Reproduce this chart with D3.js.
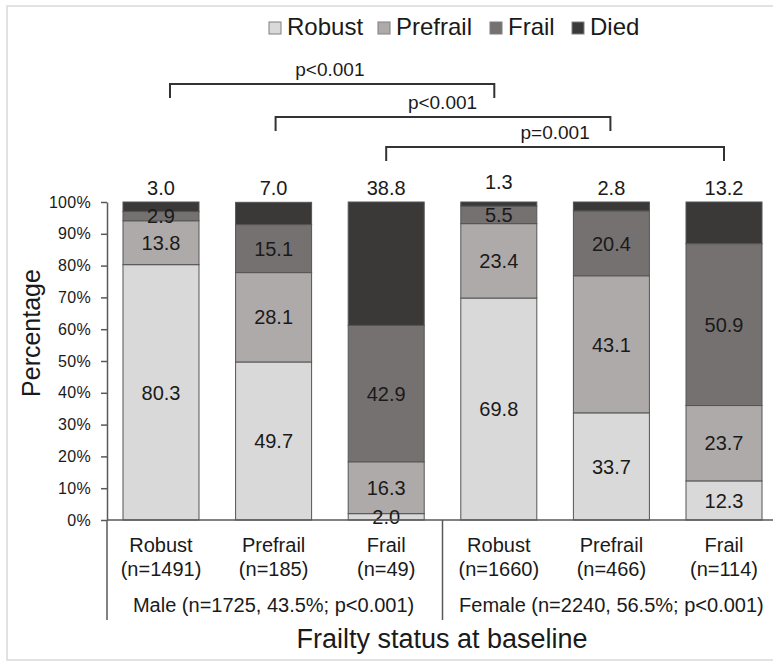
<!DOCTYPE html>
<html>
<head>
<meta charset="utf-8">
<script src="https://cdn.jsdelivr.net/npm/d3@7"></script>
<style>
  body { margin: 0; background: #fff; }
  svg text { font-family: "Liberation Sans", Arial, sans-serif; fill: #1a1a1a; }
</style>
</head>
<body>
<svg id="chart" width="773" height="662"></svg>
<script>
// categories (frailty status at baseline), grouped by sex
const categories = ["M-Robust", "M-Prefrail", "M-Frail", "F-Robust", "F-Prefrail", "F-Frail"];
const catNames = ["Robust", "Prefrail", "Frail", "Robust", "Prefrail", "Frail"];
const catCounts = ["(n=1491)", "(n=185)", "(n=49)", "(n=1660)", "(n=466)", "(n=114)"];
const groups = ["Male (n=1725, 43.5%; p<0.001)", "Female (n=2240, 56.5%; p<0.001)"];

// outcome series (percent)
const series = ["Robust", "Prefrail", "Frail", "Died"];
const robust   = [80.3, 49.7, 2.0, 69.8, 33.7, 12.3];
const prefrail = [13.8, 28.1, 16.3, 23.4, 43.1, 23.7];
const frail    = [2.9, 15.1, 42.9, 5.5, 20.4, 50.9];
const died     = [3.0, 7.0, 38.8, 1.3, 2.8, 13.2];

// p-value brackets between male and female bars
const brackets = [
  { from: "M-Robust", to: "F-Robust", label: "p<0.001" },
  { from: "M-Prefrail", to: "F-Prefrail", label: "p<0.001" },
  { from: "M-Frail", to: "F-Frail", label: "p=0.001" }
];

const yTicks = [0, 10, 20, 30, 40, 50, 60, 70, 80, 90, 100];

const colors = { Robust: "#d9d9d9", Prefrail: "#aeaaaa", Frail: "#767171", Died: "#3b3838" };

const table = categories.map((c, i) => ({
  cat: c, Robust: robust[i], Prefrail: prefrail[i], Frail: frail[i], Died: died[i]
}));

const svg = d3.select("#chart");

// outer frame
svg.append("rect")
  .attr("x", 7).attr("y", 6).attr("width", 780).attr("height", 654)
  .attr("fill", "#fff").attr("stroke", "#d9d9d9").attr("stroke-width", 1.5);

const x = d3.scaleBand().domain(categories).range([107, 778])
  .paddingInner(0.325).paddingOuter(0.142);
const y = d3.scaleLinear().domain([0, 100]).range([520, 202]);
const mid = c => x(c) + x.bandwidth() / 2;

const stacked = d3.stack().keys(series)(table);

// bars
svg.append("g").selectAll("g")
  .data(stacked).join("g")
  .attr("fill", d => colors[d.key])
  .selectAll("rect")
  .data(d => d).join("rect")
  .attr("x", d => x(d.data.cat))
  .attr("width", x.bandwidth())
  .attr("y", d => y(Math.min(d[1], 100)))
  .attr("height", d => y(d[0]) - y(Math.min(d[1], 100)))
  .attr("stroke", "#555")
  .attr("stroke-width", 1);

// labels inside segments (all but Died)
stacked.filter(s => s.key !== "Died").forEach(s => {
  svg.append("g").selectAll("text")
    .data(s).join("text")
    .attr("x", d => mid(d.data.cat))
    .attr("y", d => y((d[0] + d[1]) / 2))
    .attr("dy", "0.36em")
    .attr("text-anchor", "middle")
    .attr("font-size", 20)
    .text(d => d.data[s.key].toFixed(1));
});

// Died labels above bars
svg.append("g").selectAll("text")
  .data(table).join("text")
  .attr("x", d => mid(d.cat))
  .attr("y", d => y(100) - (d.Died < 2 ? 13 : 7))
  .attr("text-anchor", "middle")
  .attr("font-size", 20)
  .text(d => d.Died.toFixed(1));

// y axis
const yAxis = svg.append("g")
  .attr("transform", "translate(107,0)")
  .call(d3.axisLeft(y).tickValues(yTicks).tickFormat(d => d + "%").tickSize(6).tickSizeOuter(0).tickPadding(10));
yAxis.select(".domain").attr("stroke", "#595959").attr("stroke-width", 1.5);
yAxis.selectAll(".tick line").attr("stroke", "#595959").attr("stroke-width", 1.5);
yAxis.selectAll(".tick text")
  .attr("font-size", 16).attr("letter-spacing", "0.3px")
  .attr("font-family", "\"Liberation Sans\", Arial, sans-serif").attr("fill", "#1a1a1a");

// x axis line and group separators
svg.append("line")
  .attr("x1", 107).attr("x2", 773).attr("y1", y(0)).attr("y2", y(0))
  .attr("stroke", "#595959").attr("stroke-width", 1.5);
const sepX = [107, (x("M-Frail") + x.bandwidth() + x("F-Robust")) / 2];
svg.append("g").selectAll("line")
  .data(sepX).join("line")
  .attr("x1", d => d).attr("x2", d => d)
  .attr("y1", y(0)).attr("y2", 620)
  .attr("stroke", "#595959").attr("stroke-width", 1.5);

// category labels
const cl = svg.append("g").selectAll("g")
  .data(categories).join("g")
  .attr("transform", d => `translate(${mid(d)},0)`);
cl.append("text").attr("y", 552).attr("text-anchor", "middle").attr("font-size", 20)
  .text((d, i) => catNames[i]);
cl.append("text").attr("y", 576).attr("text-anchor", "middle").attr("font-size", 20)
  .text((d, i) => catCounts[i]);

// group labels
const groupCenters = [
  (x("M-Robust") + x("M-Frail") + x.bandwidth()) / 2,
  (x("F-Robust") + x("F-Frail") + x.bandwidth()) / 2
];
svg.append("g").selectAll("text")
  .data(groups).join("text")
  .attr("x", (d, i) => groupCenters[i])
  .attr("y", 612)
  .attr("text-anchor", "middle")
  .attr("font-size", 20)
  .text(d => d);

// axis titles
svg.append("text")
  .attr("x", 442).attr("y", 648)
  .attr("text-anchor", "middle")
  .attr("font-size", 27)
  .text("Frailty status at baseline");
svg.append("text")
  .attr("transform", "translate(40,333) rotate(-90)")
  .attr("text-anchor", "middle")
  .attr("font-size", 25)
  .text("Percentage");

// p-value brackets
const bracketY = [84, 117, 147];
const bracketInset = [9, 2, 0];
const bg = svg.append("g").selectAll("g")
  .data(brackets).join("g");
bg.append("path")
  .attr("d", (d, i) => {
    const x1 = mid(d.from) + bracketInset[i];
    const x2 = mid(d.to) - bracketInset[i] / 2;
    const yy = bracketY[i];
    return `M${x1},${yy + 14}V${yy}H${x2}V${yy + 14}`;
  })
  .attr("fill", "none").attr("stroke", "#333").attr("stroke-width", 2);
bg.append("text")
  .attr("x", d => (mid(d.from) + mid(d.to)) / 2)
  .attr("y", (d, i) => bracketY[i] - 8)
  .attr("text-anchor", "middle")
  .attr("font-size", 19)
  .text(d => d.label);

// legend
const legendX = [269, 378, 490, 572];
const lg = svg.append("g").selectAll("g")
  .data(series).join("g")
  .attr("transform", (d, i) => `translate(${legendX[i]},22)`);
lg.append("rect")
  .attr("width", 12).attr("height", 12)
  .attr("fill", d => colors[d]).attr("stroke", "#7f7f7f").attr("stroke-width", 1);
lg.append("text")
  .attr("x", 18).attr("y", 13)
  .attr("font-size", 24)
  .text(d => d);
</script>
</body>
</html>
